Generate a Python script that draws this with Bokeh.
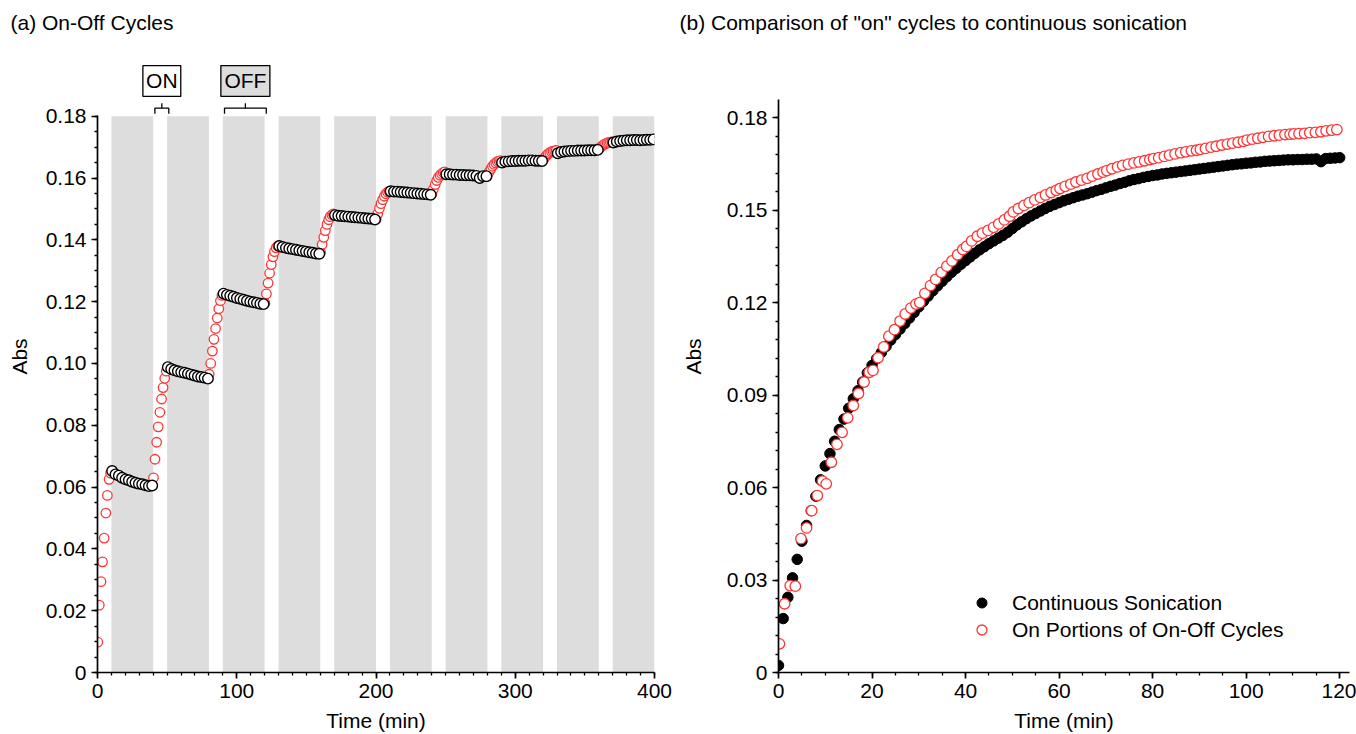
from bokeh.plotting import figure
from bokeh.layouts import row
from bokeh.models import (Range1d, SingleIntervalTicker, CustomJSTickFormatter,
                          Legend, LegendItem)
from bokeh.core.properties import value
from bokeh.embed import file_html
from bokeh.resources import INLINE

FONT = "Liberation Sans"
TICK_PX = "21px"
AXIS_PX = "21px"
TITLE_PX = "21px"
RED = "#ff3535"
BAND = "#dddddd"

# ---------------- (a) on-off cycles ----------------
on_start = [0, 40, 80, 120, 160, 200, 240, 280, 320, 360]       # sonicator switched on (min)
off_start = [10, 50, 90, 130, 170, 210, 250, 290, 330, 370]     # sonicator switched off (min)
off_end = [40, 80, 120, 160, 200, 240, 280, 320, 360, 400]

# reading times inside each period, minutes after the period began
on_sample_min = [0.2, 1.3, 2.5, 3.6, 4.8, 6.0, 7.1, 8.3, 9.4]
off_sample_min = [0.5, 2.9, 5.3, 7.7, 10.1, 12.5, 14.9, 17.3, 19.7, 22.1, 24.5, 26.9, 29.3]

abs_on = [
    [0.0098, 0.0218, 0.0294, 0.0358, 0.0435, 0.0516, 0.0573, 0.0625, 0.0645],
    [0.0630, 0.0690, 0.0745, 0.0795, 0.0842, 0.0885, 0.0922, 0.0952, 0.0975],
    [0.0965, 0.1000, 0.1040, 0.1078, 0.1113, 0.1147, 0.1177, 0.1203, 0.1220],
    [0.1195, 0.1225, 0.1260, 0.1292, 0.1320, 0.1345, 0.1362, 0.1374, 0.1380],
    [0.1360, 0.1385, 0.1408, 0.1430, 0.1450, 0.1465, 0.1475, 0.1481, 0.1484],
    [0.1468, 0.1485, 0.1502, 0.1517, 0.1530, 0.1541, 0.1549, 0.1554, 0.1557],
    [0.1550, 0.1565, 0.1579, 0.1592, 0.1602, 0.1609, 0.1614, 0.1618, 0.1620],
    [0.1610, 0.1620, 0.1630, 0.1638, 0.1644, 0.1649, 0.1653, 0.1655, 0.1656],
    [0.1660, 0.1667, 0.1673, 0.1678, 0.1682, 0.1685, 0.1687, 0.1688, 0.1689],
    [0.1695, 0.1700, 0.1704, 0.1708, 0.1711, 0.1713, 0.1715, 0.1716, 0.1717],
]
abs_off = [
    [0.0652, 0.0641, 0.0637, 0.0630, 0.0625, 0.0622, 0.0617, 0.0614, 0.0611, 0.0609, 0.0606, 0.0603, 0.0605],
    [0.0988, 0.0982, 0.0978, 0.0975, 0.0972, 0.0970, 0.0967, 0.0964, 0.0961, 0.0958, 0.0956, 0.0954, 0.0951],
    [0.1226, 0.1222, 0.1219, 0.1216, 0.1212, 0.1209, 0.1206, 0.1203, 0.1200, 0.1198, 0.1196, 0.1193, 0.1192],
    [0.1380, 0.1377, 0.1374, 0.1372, 0.1370, 0.1368, 0.1366, 0.1364, 0.1362, 0.1360, 0.1358, 0.1356, 0.1355],
    [0.1480, 0.1478, 0.1477, 0.1476, 0.1475, 0.1474, 0.1473, 0.1472, 0.1471, 0.1470, 0.1469, 0.1468, 0.1466],
    [0.1557, 0.1556, 0.1556, 0.1555, 0.1554, 0.1553, 0.1552, 0.1551, 0.1550, 0.1549, 0.1548, 0.1547, 0.1546],
    [0.1612, 0.1612, 0.1611, 0.1611, 0.1610, 0.1610, 0.1609, 0.1609, 0.1608, 0.1607, 0.1600, 0.1606, 0.1606],
    [0.1650, 0.1653, 0.1654, 0.1655, 0.1655, 0.1656, 0.1656, 0.1656, 0.1657, 0.1657, 0.1656, 0.1656, 0.1655],
    [0.1680, 0.1684, 0.1686, 0.1687, 0.1688, 0.1688, 0.1689, 0.1689, 0.1689, 0.1690, 0.1690, 0.1690, 0.1691],
    [0.1715, 0.1718, 0.1720, 0.1721, 0.1722, 0.1722, 0.1723, 0.1723, 0.1722, 0.1723, 0.1724, 0.1724, 0.1725],
]

# ---------------- (b) "on" portions vs continuous sonication ----------------
cont_time = list(range(121))
cont_abs = [
    0.0023, 0.0175, 0.0244, 0.0307, 0.0367, 0.0426, 0.0477, 0.0525, 0.0572, 0.0625,
    0.0670, 0.0710, 0.0750, 0.0788, 0.0822, 0.0857, 0.0888, 0.0914, 0.0942, 0.0972,
    0.0996, 0.1018, 0.1038, 0.1058, 0.1078, 0.1096, 0.1114, 0.1132, 0.1150, 0.1168,
    0.1186, 0.1204, 0.1221, 0.1238, 0.1254, 0.1269, 0.1284, 0.1298, 0.1311, 0.1324,
    0.1336, 0.1348, 0.1360, 0.1371, 0.1381, 0.1391, 0.1400, 0.1409, 0.1418, 0.1428,
    0.1440, 0.1452, 0.1462, 0.1472, 0.1481, 0.1489, 0.1497, 0.1505, 0.1512, 0.1518,
    0.1524, 0.1530, 0.1535, 0.1540, 0.1545, 0.1549, 0.1553, 0.1558, 0.1563, 0.1567,
    0.1572, 0.1577, 0.1581, 0.1586, 0.1590, 0.1595, 0.1599, 0.1602, 0.1606, 0.1609,
    0.1612, 0.1614, 0.1617, 0.1619, 0.1621, 0.1623, 0.1625, 0.1627, 0.1629, 0.1631,
    0.1633, 0.1635, 0.1637, 0.1639, 0.1641, 0.1643, 0.1645, 0.1647, 0.1649, 0.1650,
    0.1652, 0.1653, 0.1655, 0.1656, 0.1658, 0.1659, 0.1660, 0.1661, 0.1662, 0.1663,
    0.1663, 0.1664, 0.1664, 0.1665, 0.1665, 0.1666, 0.1657, 0.1667, 0.1668, 0.1669,
    0.1670,
]

# the "on" periods laid end to end: 10 min of sonication per block
block_start = [0, 10, 20, 30, 40, 50, 60, 70, 80, 90, 100, 110]
abs_on_joined = [
    [0.0093, 0.0223, 0.0282, 0.0280, 0.0434, 0.0469, 0.0525, 0.0574, 0.0621],
    [0.0612, 0.0682, 0.0740, 0.0779, 0.0826, 0.0866, 0.0905, 0.0942, 0.0974],
    [0.0980, 0.1021, 0.1056, 0.1091, 0.1112, 0.1140, 0.1163, 0.1182, 0.1195],
    [0.1200, 0.1230, 0.1255, 0.1275, 0.1298, 0.1318, 0.1335, 0.1355, 0.1372],
    [0.1382, 0.1400, 0.1415, 0.1425, 0.1434, 0.1444, 0.1455, 0.1468, 0.1480],
    [0.1494, 0.1505, 0.1515, 0.1524, 0.1533, 0.1541, 0.1549, 0.1557, 0.1564],
    [0.1570, 0.1577, 0.1584, 0.1591, 0.1597, 0.1603, 0.1610, 0.1617, 0.1623],
    [0.1628, 0.1634, 0.1640, 0.1645, 0.1649, 0.1653, 0.1656, 0.1660, 0.1664],
    [0.1667, 0.1670, 0.1674, 0.1678, 0.1682, 0.1686, 0.1689, 0.1692, 0.1694],
    [0.1697, 0.1700, 0.1704, 0.1707, 0.1711, 0.1714, 0.1717, 0.1720, 0.1723],
    [0.1727, 0.1730, 0.1733, 0.1736, 0.1739, 0.1741, 0.1743, 0.1745, 0.1746],
    [0.1747, 0.1748, 0.1749, 0.1751, 0.1752, 0.1754, 0.1757, 0.1759, 0.1761],
]

on_t = [s + o for s in on_start for o in on_sample_min]
on_v = [v for cyc in abs_on for v in cyc]
off_t = [s + o for s in off_start for o in off_sample_min]
off_v = [v for cyc in abs_off for v in cyc]
joined_t = [s + o for s in block_start for o in on_sample_min]
joined_v = [v for blk in abs_on_joined for v in blk]


def style_axes(p, label_standoff_y, title_offset):
    p.grid.visible = False
    p.outline_line_color = None
    p.background_fill_color = "white"
    p.border_fill_color = "white"
    for ax in (p.xaxis[0], p.yaxis[0]):
        ax.axis_line_width = 1.7
        ax.axis_line_color = "black"
        ax.major_tick_line_width = 1.7
        ax.major_tick_line_color = "black"
        ax.minor_tick_line_width = 1.3
        ax.minor_tick_line_color = "black"
        ax.major_tick_in = 0
        ax.major_tick_out = 6
        ax.minor_tick_in = 0
        ax.minor_tick_out = 3
        ax.major_label_standoff = 5
        ax.major_label_text_font = FONT
        ax.major_label_text_font_size = TICK_PX
        ax.major_label_text_color = "black"
        ax.axis_label_text_font = FONT
        ax.axis_label_text_font_size = AXIS_PX
        ax.axis_label_text_font_style = "normal"
        ax.axis_label_text_color = "black"
    p.xaxis.axis_label_standoff = 8
    p.yaxis.axis_label_standoff = label_standoff_y
    p.title.align = "left"
    p.title.offset = title_offset
    p.title.standoff = 14
    p.title.text_font = FONT
    p.title.text_font_size = TITLE_PX
    p.title.text_font_style = "normal"
    p.title.text_color = "black"


# both panels share a frame top at 40 px and a frame bottom at 672 px
# ---------- panel (a) ----------
pa = figure(width=678, height=734, x_range=Range1d(0, 400), y_range=Range1d(0, 0.2045),
            title="(a) On-Off Cycles", output_backend="svg", toolbar_location=None,
            min_border_left=97, min_border_right=24, min_border_top=40, min_border_bottom=62)
style_axes(pa, 12, -87)
pa.xaxis.axis_label = "Time (min)"
pa.yaxis.axis_label = "Abs"
pa.xaxis.ticker = SingleIntervalTicker(interval=100, num_minor_ticks=10)
pa.yaxis.ticker = SingleIntervalTicker(interval=0.02, num_minor_ticks=4)
pa.yaxis.bounds = (0, 0.1801)
pa.yaxis.formatter = CustomJSTickFormatter(code="return tick == 0 ? '0' : tick.toFixed(2);")

# shaded "off" periods
pa.quad(left=off_start, right=off_end, bottom=0, top=0.18, fill_color=BAND, line_color=None)

pa.scatter(on_t, on_v, marker="circle", size=9.5, fill_color="white",
           line_color=RED, line_width=1.3)
pa.scatter(off_t, off_v, marker="circle", size=10.5, fill_color="white",
           line_color="black", line_width=1.4)

# ON / OFF key above the plot: a bracket over one period of each kind
BAR_Y, LEG_Y, STEM_Y = 0.1826, 0.1808, 0.1842
BOX_B, BOX_T = 0.1864, 0.1964
KEY_SHIFT = 1.2
for a, b, txt, fill, half in [(on_start[1], off_start[1], "ON", "white", 13.6),
                              (off_start[2], off_end[2], "OFF", BAND, 17.6)]:
    a, b = a + KEY_SHIFT, b + KEY_SHIFT
    mid = (a + b) / 2
    pa.line([a, a, b, b], [LEG_Y, BAR_Y, BAR_Y, LEG_Y], line_color="black", line_width=1.3)
    pa.line([mid, mid], [BAR_Y, STEM_Y], line_color="black", line_width=1.3)
    pa.quad(left=[mid - half], right=[mid + half], bottom=[BOX_B], top=[BOX_T],
            fill_color=fill, line_color="black", line_width=1.3)
    pa.text([mid], [(BOX_B + BOX_T) / 2], text=[txt], text_align="center",
            text_baseline="middle", text_font=value(FONT), text_font_size="21px",
            text_color="black")

# ---------- panel (b) ----------
pb = figure(width=678, height=734, x_range=Range1d(0, 122.1), y_range=Range1d(0, 0.205),
            title='(b) Comparison of "on" cycles to continuous sonication',
            output_backend="svg", toolbar_location=None,
            min_border_left=100, min_border_right=7, min_border_top=40, min_border_bottom=62)
style_axes(pb, 19, -99)
pb.xaxis.axis_label = "Time (min)"
pb.yaxis.axis_label = "Abs"
pb.xaxis.ticker = SingleIntervalTicker(interval=20, num_minor_ticks=4)
pb.yaxis.ticker = SingleIntervalTicker(interval=0.03, num_minor_ticks=5)
pb.yaxis.bounds = (0, 0.1858)
pb.yaxis.formatter = CustomJSTickFormatter(code="return tick == 0 ? '0' : tick.toFixed(2);")

r_cont = pb.scatter(cont_time, cont_abs, marker="circle", size=10.5,
                    fill_color="black", line_color="black", line_width=1)
r_on = pb.scatter(joined_t, joined_v, marker="circle", size=10.5, fill_color="white",
                  line_color=RED, line_width=1.3)

legend = Legend(items=[LegendItem(label="Continuous Sonication", renderers=[r_cont]),
                       LegendItem(label="On Portions of On-Off Cycles", renderers=[r_on])],
                location=(191, 30), padding=0, margin=0, spacing=2,
                glyph_width=25, glyph_height=25, label_standoff=18,
                label_text_font=FONT, label_text_font_size="21px", label_text_color="black",
                background_fill_alpha=0, border_line_alpha=0)
pb.add_layout(legend)

layout = row(pa, pb)
open("out.html", "w").write(file_html(layout, INLINE))
